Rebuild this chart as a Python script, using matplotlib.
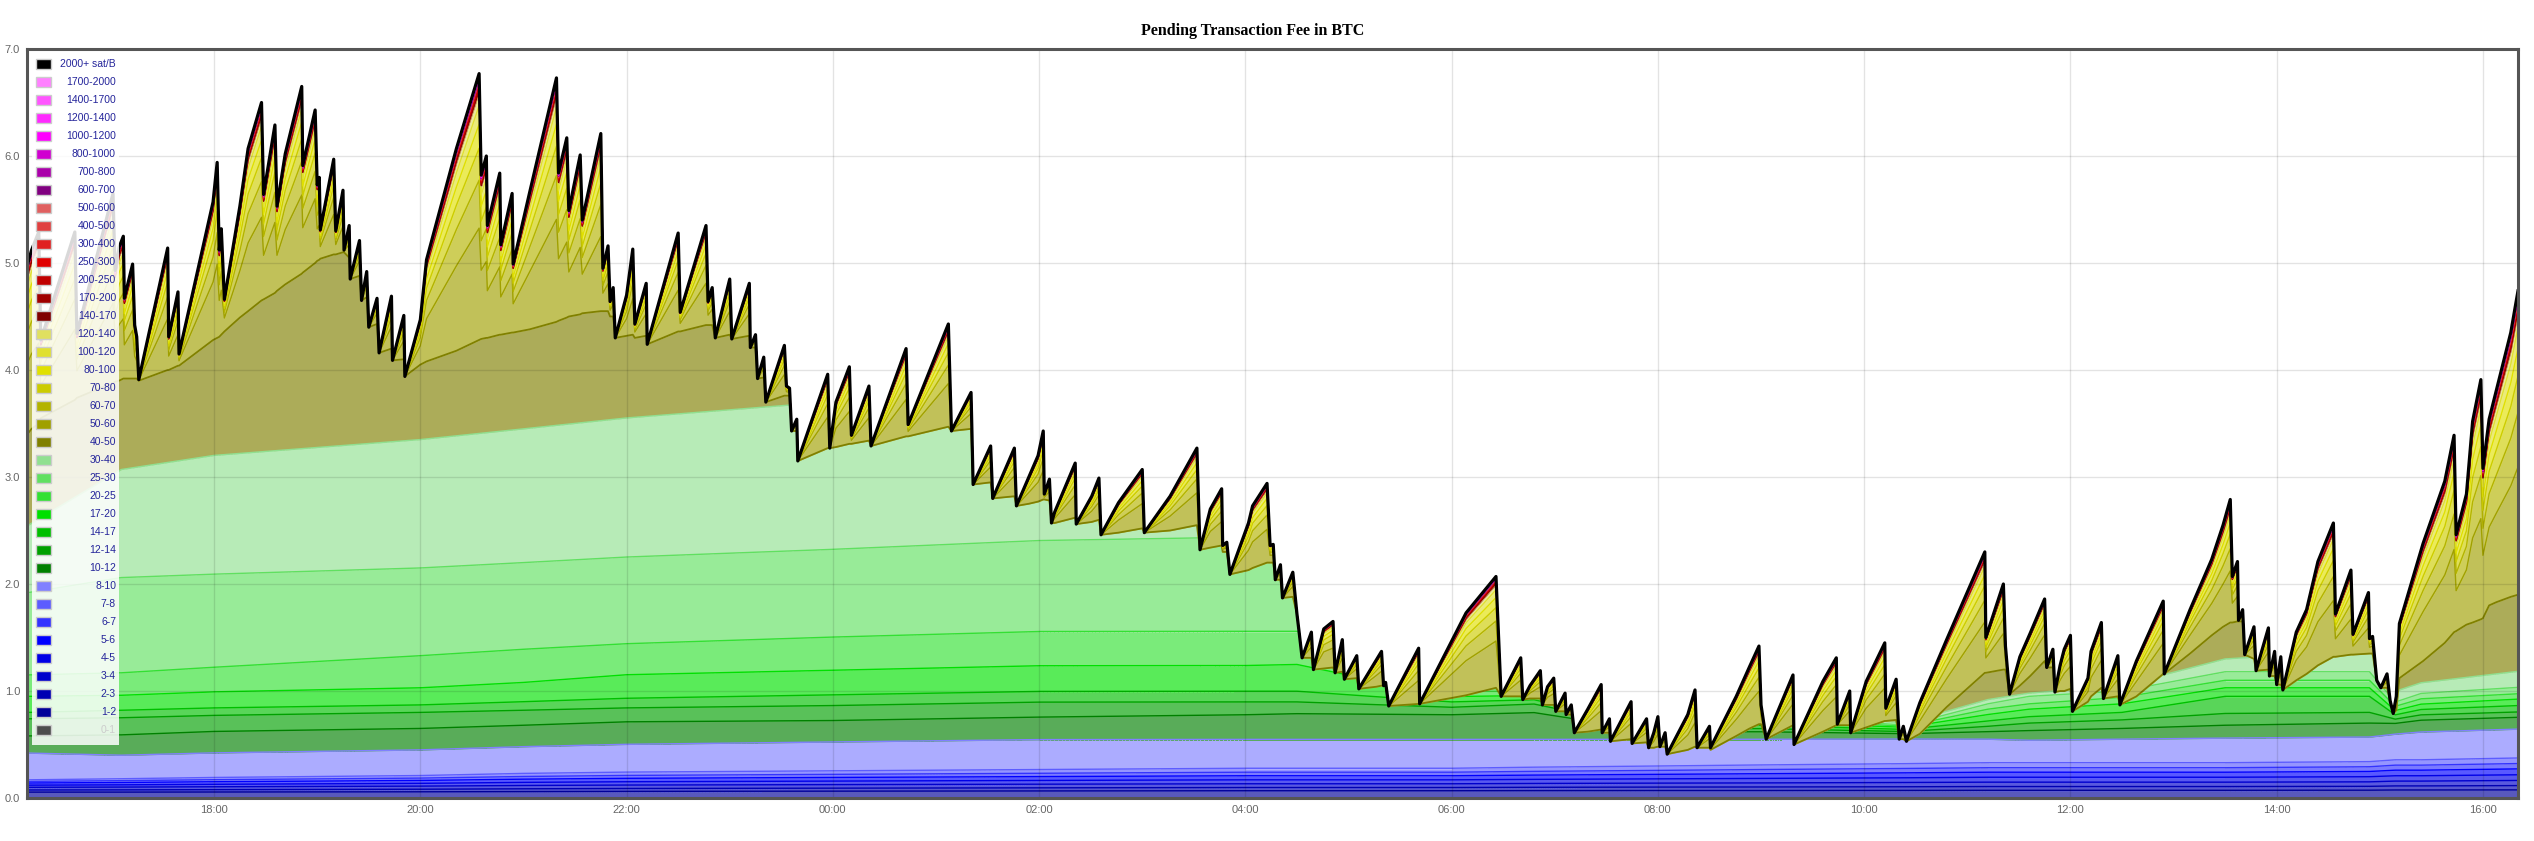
import numpy as np
import matplotlib.pyplot as plt
from matplotlib.patches import Polygon, Rectangle
from matplotlib.colors import to_rgb

# fee bands (sat/B), lowest first
bands = ["0-1", "1-2", "2-3", "3-4", "4-5", "5-6", "6-7", "7-8", "8-10",
         "10-12", "12-14", "14-17", "17-20", "20-25", "25-30", "30-40",
         "40-50", "50-60", "60-70", "70-80", "80-100", "100-120", "120-140",
         "140-170", "170-200", "200-250", "250-300", "300-400", "400-500", "500-600",
         "600-700", "700-800", "800-1000", "1000-1200", "1200-1400", "1400-1700",
         "1700-2000", "2000+ sat/B"]
band_colors = ["#4d4d4d", "#000099", "#0000b3", "#0000cc", "#0000e6", "#0000ff", "#3333ff", "#5c5cff", "#8080ff",
               "#008000", "#00a000", "#00bf00", "#00e000", "#33e033", "#60e060", "#90e090",
               "#808000", "#a0a000", "#b3b300", "#cccc00", "#e0e000", "#e0e030", "#e0e060",
               "#800000", "#a00000", "#c00000", "#e00000", "#e02020", "#e04040", "#e06060",
               "#800080", "#aa00aa", "#d000d0", "#ff00ff", "#ff2aff", "#ff55ff",
               "#ff80ff", "#000000"]

# slow lower bands (BTC per band), sampled in hours since midnight of day 1
t_low = [16.2, 17.1, 18, 20, 21, 22, 24, 26, 28, 28.5, 30, 30.8, 32, 33, 34.4, 35.2, 35.6, 36.5, 37.5, 38.9, 39.15, 39.4, 40.34]
b1_2 = [.055, .055, .056, .058, .060, .062, .064, .066, .068, .068, .068, .069, .070, .070, .071, .072, .072, .072, .072, .073, .075, .075, .076]
b2_3 = [.020, .021, .022, .024, .026, .027, .028, .029, .030, .030, .030, .031, .032, .033, .034, .035, .035, .035, .035, .036, .038, .038, .040]
b3_4 = [.025, .026, .027, .029, .031, .032, .033, .034, .035, .035, .035, .036, .037, .038, .040, .041, .041, .041, .041, .042, .045, .045, .048]
b4_5 = [.020, .021, .023, .026, .029, .031, .033, .035, .037, .037, .037, .038, .040, .042, .044, .046, .046, .046, .046, .048, .050, .050, .053]
b5_6 = [.020, .022, .024, .027, .030, .032, .034, .036, .038, .038, .038, .040, .042, .044, .046, .047, .047, .047, .047, .049, .052, .052, .055]
b6_7 = [.015, .017, .019, .022, .025, .027, .029, .031, .033, .033, .033, .035, .037, .039, .041, .042, .042, .042, .042, .044, .047, .047, .050]
b7_8 = [.015, .018, .021, .024, .029, .031, .033, .035, .037, .037, .037, .039, .041, .043, .045, .047, .047, .047, .047, .048, .050, .050, .052]
b8_10 = [0.25, 0.22, 0.23, 0.24, 0.25, 0.26, 0.27, 0.28, 0.27, 0.27, 0.27, 0.26, 0.25, 0.24, 0.23, 0.22, 0.21, 0.22, 0.23, 0.23, 0.24, 0.26, 0.27]
b10_12 = [0.16, 0.19, 0.20, 0.20, 0.20, 0.21, 0.20, 0.21, 0.23, 0.24, 0.23, 0.25, 0.07, 0.07, 0.05, 0.07, 0.09, 0.10, 0.12, 0.13, 0.10, 0.11, 0.11]
b12_14 = [0.16, 0.16, 0.15, 0.15, 0.14, 0.13, 0.14, 0.14, 0.12, 0.11, 0.07, 0.08, 0.02, 0.03, 0.02, 0.05, 0.07, 0.08, 0.11, 0.10, 0.04, 0.05, 0.05]
b14_17 = [0.06, 0.07, 0.07, 0.07, 0.08, 0.09, 0.10, 0.10, 0.10, 0.10, 0.05, 0.04, 0.02, 0.03, 0.02, 0.05, 0.06, 0.07, 0.16, 0.15, 0.04, 0.05, 0.06]
b17_20 = [0.15, 0.14, 0.15, 0.16, 0.18, 0.22, 0.23, 0.24, 0.24, 0.25, 0.05, 0.04, 0.02, 0.03, 0.02, 0.06, 0.07, 0.08, 0.08, 0.08, 0.04, 0.05, 0.06]
b20_25 = [0.20, 0.21, 0.23, 0.30, 0.31, 0.29, 0.31, 0.32, 0.32, 0.31, 0.05, 0.04, 0.02, 0.03, 0.01, 0.05, 0.05, 0.06, 0.07, 0.07, 0.04, 0.05, 0.05]
b25_30 = [0.77, 0.89, 0.87, 0.82, 0.81, 0.81, 0.82, 0.85, 0.88, 0.89, 0.02, 0.02, 0.02, 0.03, 0.01, 0.05, 0.07, 0.06, 0.08, 0.08, 0.04, 0.05, 0.06]
b30_40 = [0.63, 1.01, 1.11, 1.20, 1.25, 1.30, 1.38, 1.30, 1.26, 1.25, 0.03, 0.03, 0.02, 0.03, 0.02, 0.04, 0.03, 0.05, 0.12, 0.20, 0.10, 0.10, 0.15]

# fast part: total pending fee and top of the 40-50 band
t_fine = [16.19, 16.23, 16.30, 16.32, 16.65, 16.67, 17.02, 17.04, 17.08, 17.12, 17.13, 17.21, 17.23, 17.25, 17.27,
          17.55, 17.56, 17.65, 17.66, 17.99, 18.03, 18.05, 18.07, 18.10, 18.25, 18.33, 18.46, 18.48, 18.59, 18.61,
          18.69, 18.85, 18.86, 18.98, 19.00, 19.02, 19.03, 19.16, 19.18, 19.25, 19.26, 19.31, 19.32, 19.41, 19.43,
          19.48, 19.50, 19.58, 19.60, 19.72, 19.73, 19.84, 19.85, 20.00, 20.06, 20.35, 20.57, 20.59, 20.64, 20.65,
          20.77, 20.78, 20.89, 20.90, 21.06, 21.32, 21.34, 21.42, 21.44, 21.55, 21.57, 21.75, 21.77, 21.82, 21.84,
          21.87, 21.89, 22.00, 22.06, 22.08, 22.19, 22.20, 22.50, 22.52, 22.77, 22.79, 22.83, 22.86, 23.00, 23.02,
          23.19, 23.20, 23.25, 23.27, 23.33, 23.35, 23.53, 23.55, 23.58, 23.60, 23.65, 23.66, 23.95, 23.97, 24.03,
          24.16, 24.18, 24.35, 24.37, 24.71, 24.73, 25.12, 25.15, 25.34, 25.36, 25.53, 25.55, 25.76, 25.78, 25.90,
          25.99, 26.04, 26.05, 26.10, 26.12, 26.15, 26.35, 26.36, 26.51, 26.58, 26.60, 26.77, 27.00, 27.02, 27.27,
          27.53, 27.56, 27.66, 27.77, 27.78, 27.82, 27.85, 28.03, 28.07, 28.21, 28.24, 28.27, 28.29, 28.34, 28.36,
          28.46, 28.50, 28.52, 28.55, 28.64, 28.66, 28.76, 28.85, 28.87, 28.94, 28.96, 29.08, 29.10, 29.27, 29.32,
          29.34, 29.36, 29.39, 29.68, 29.69, 30.14, 30.43, 30.48, 30.67, 30.69, 30.76, 30.86, 30.88, 30.93, 30.99,
          31.01, 31.10, 31.11, 31.16, 31.19, 31.32, 31.45, 31.46, 31.53, 31.54, 31.74, 31.75, 31.89, 31.91, 31.96,
          32.00, 32.02, 32.07, 32.09, 32.29, 32.36, 32.38, 32.50, 32.51, 32.76, 32.89, 32.98, 33.00, 33.05, 33.31,
          33.32, 33.60, 33.73, 33.74, 33.86, 33.87, 34.02, 34.20, 34.21, 34.31, 34.34, 34.38, 34.41, 34.54, 34.80,
          35.17, 35.18, 35.35, 35.37, 35.41, 35.51, 35.61, 35.75, 35.77, 35.83, 35.85, 35.90, 35.94, 36.00, 36.02,
          36.17, 36.20, 36.30, 36.32, 36.46, 36.48, 36.64, 36.90, 36.91, 37.16, 37.37, 37.48, 37.55, 37.57, 37.62,
          37.63, 37.67, 37.69, 37.78, 37.80, 37.92, 37.93, 37.98, 38.00, 38.04, 38.06, 38.19, 38.29, 38.40, 38.55,
          38.57, 38.72, 38.74, 38.89, 38.90, 38.93, 38.97, 39.01, 39.07, 39.10, 39.13, 39.16, 39.19, 39.42, 39.63,
          39.72, 39.74, 39.84, 39.90, 39.98, 40.00, 40.06, 40.13, 40.27, 40.34]
fee_total = [4.98, 5.12, 5.29, 4.28, 5.29, 4.34, 5.65, 4.93, 5.15, 5.25, 4.67, 4.99, 4.42, 4.31, 3.91,
             5.14, 4.31, 4.73, 4.15, 5.57, 5.94, 5.12, 5.32, 4.66, 5.53, 6.07, 6.50, 5.64, 6.29, 5.53,
             6.02, 6.65, 5.91, 6.43, 5.73, 5.80, 5.31, 5.97, 5.30, 5.68, 5.12, 5.35, 4.85, 5.21, 4.65,
             4.92, 4.40, 4.67, 4.16, 4.69, 4.09, 4.51, 3.94, 4.47, 5.03, 6.07, 6.77, 5.82, 6.00, 5.35,
             5.84, 5.17, 5.65, 4.99, 5.66, 6.73, 5.84, 6.17, 5.49, 6.01, 5.40, 6.21, 4.95, 5.16, 4.64,
             4.77, 4.30, 4.70, 5.13, 4.43, 4.81, 4.24, 5.28, 4.54, 5.35, 4.64, 4.77, 4.30, 4.85, 4.29,
             4.81, 4.21, 4.33, 3.92, 4.12, 3.70, 4.23, 3.85, 3.83, 3.43, 3.54, 3.15, 3.96, 3.27, 3.70,
             4.03, 3.39, 3.85, 3.29, 4.20, 3.49, 4.43, 3.43, 3.79, 2.93, 3.29, 2.80, 3.27, 2.73, 3.00,
             3.20, 3.43, 2.84, 2.98, 2.57, 2.67, 3.13, 2.56, 2.82, 2.99, 2.46, 2.76, 3.07, 2.48, 2.82,
             3.27, 2.32, 2.70, 2.89, 2.36, 2.39, 2.09, 2.57, 2.73, 2.94, 2.36, 2.37, 2.04, 2.18, 1.87,
             2.11, 1.72, 1.56, 1.31, 1.55, 1.20, 1.58, 1.65, 1.17, 1.48, 1.11, 1.33, 1.02, 1.29, 1.37,
             1.05, 1.08, 0.86, 1.40, 0.88, 1.73, 2.07, 0.95, 1.31, 0.92, 1.05, 1.19, 0.87, 1.04, 1.12,
             0.81, 0.98, 0.78, 0.87, 0.61, 0.83, 1.06, 0.61, 0.74, 0.53, 0.90, 0.51, 0.74, 0.47, 0.61,
             0.76, 0.48, 0.61, 0.41, 0.78, 1.01, 0.47, 0.67, 0.47, 0.95, 1.23, 1.42, 0.87, 0.55, 1.15,
             0.50, 1.09, 1.31, 0.69, 1.00, 0.61, 1.09, 1.45, 0.84, 1.11, 0.55, 0.67, 0.53, 0.89, 1.48,
             2.30, 1.50, 2.00, 1.42, 0.97, 1.32, 1.54, 1.86, 1.22, 1.39, 0.99, 1.24, 1.39, 1.52, 0.81,
             1.12, 1.37, 1.64, 0.93, 1.33, 0.87, 1.28, 1.84, 1.16, 1.76, 2.23, 2.55, 2.79, 2.07, 2.21,
             1.66, 1.76, 1.34, 1.60, 1.19, 1.59, 1.14, 1.37, 1.06, 1.32, 1.01, 1.55, 1.76, 2.21, 2.57,
             1.72, 2.13, 1.53, 1.92, 1.49, 1.51, 1.10, 1.03, 1.16, 0.91, 0.79, 0.95, 1.63, 2.38, 2.96,
             3.39, 2.46, 2.84, 3.52, 3.91, 3.08, 3.54, 3.81, 4.35, 4.74]
fee_base = [3.40, 3.45, 3.50, 3.55, 3.72, 3.74, 3.88, 3.89, 3.90, 3.92, 3.92, 3.92, 3.92, 3.92, 3.90,
            4.00, 4.00, 4.04, 4.04, 4.28, 4.30, 4.31, 4.33, 4.36, 4.49, 4.55, 4.65, 4.66, 4.72, 4.74,
            4.80, 4.90, 4.91, 5.00, 5.02, 5.03, 5.04, 5.08, 5.08, 5.10, 5.10, 5.05, 4.85, 4.88, 4.65,
            4.68, 4.40, 4.43, 4.16, 4.20, 4.09, 4.10, 3.94, 4.05, 4.08, 4.18, 4.28, 4.29, 4.30, 4.30,
            4.33, 4.33, 4.35, 4.35, 4.38, 4.45, 4.46, 4.49, 4.50, 4.52, 4.53, 4.55, 4.55, 4.55, 4.50,
            4.50, 4.30, 4.32, 4.33, 4.30, 4.32, 4.24, 4.36, 4.36, 4.42, 4.42, 4.42, 4.30, 4.33, 4.29,
            4.32, 4.21, 4.21, 3.92, 3.93, 3.70, 3.76, 3.76, 3.76, 3.43, 3.43, 3.15, 3.27, 3.27, 3.28,
            3.31, 3.31, 3.34, 3.29, 3.38, 3.38, 3.47, 3.43, 3.45, 2.93, 2.95, 2.80, 2.82, 2.73, 2.75,
            2.77, 2.79, 2.79, 2.78, 2.57, 2.57, 2.62, 2.56, 2.58, 2.60, 2.46, 2.48, 2.52, 2.48, 2.50,
            2.55, 2.32, 2.34, 2.36, 2.30, 2.30, 2.09, 2.13, 2.15, 2.20, 2.20, 2.20, 2.04, 2.04, 1.87,
            1.88, 1.72, 1.56, 1.31, 1.31, 1.20, 1.21, 1.22, 1.17, 1.18, 1.11, 1.12, 1.02, 1.04, 1.05,
            1.05, 1.05, 0.86, 0.88, 0.88, 0.96, 1.03, 0.95, 0.95, 0.92, 0.93, 0.93, 0.87, 0.87, 0.87,
            0.81, 0.81, 0.78, 0.78, 0.61, 0.62, 0.64, 0.61, 0.61, 0.53, 0.55, 0.51, 0.52, 0.47, 0.47,
            0.48, 0.48, 0.48, 0.41, 0.45, 0.48, 0.47, 0.47, 0.45, 0.58, 0.65, 0.69, 0.69, 0.55, 0.68,
            0.50, 0.62, 0.68, 0.68, 0.68, 0.61, 0.66, 0.72, 0.72, 0.73, 0.55, 0.55, 0.53, 0.60, 0.85,
            1.17, 1.17, 1.20, 1.20, 0.97, 1.05, 1.14, 1.28, 1.22, 1.22, 0.99, 1.00, 1.00, 1.02, 0.81,
            0.90, 0.95, 1.03, 0.93, 0.95, 0.87, 0.95, 1.16, 1.16, 1.35, 1.52, 1.60, 1.64, 1.64, 1.65,
            1.65, 1.65, 1.34, 1.30, 1.19, 1.20, 1.14, 1.14, 1.06, 1.06, 1.01, 1.10, 1.16, 1.24, 1.32,
            1.32, 1.34, 1.34, 1.35, 1.35, 1.35, 1.10, 1.03, 1.03, 0.91, 0.79, 0.82, 1.12, 1.28, 1.45,
            1.55, 1.56, 1.62, 1.64, 1.67, 1.68, 1.80, 1.83, 1.88, 1.90]

# how the amount above the 40-50 band is split (50-60 up to 2000+)
upper_share = [0.42, 0.18, 0.12, 0.09, 0.07, 0.05,
               0.006, 0.006, 0.012, 0.008, 0.006, 0.004, 0.003,
               0.003, 0.003, 0.004, 0.003, 0.002, 0.002, 0.002, 0.006]

tick_hours = [18, 20, 22, 24, 26, 28, 30, 32, 34, 36, 38, 40]
x_labels = ["18:00", "20:00", "22:00", "00:00", "02:00", "04:00",
            "06:00", "08:00", "10:00", "12:00", "14:00", "16:00"]
y_ticks = [0, 1, 2, 3, 4, 5, 6, 7]


def soft(c, a=0.65):
    r, g, b = to_rgb(c)
    return (r * a + 1 - a, g * a + 1 - a, b * a + 1 - a)


plt.rcParams["font.family"] = ["Liberation Sans", "DejaVu Sans"]

W, H = 2534, 841
fig = plt.figure(figsize=(W / 100, H / 100), dpi=100)
ax = fig.add_axes([27 / W, 1 - 798 / H, (2518 - 27) / W, (798 - 49) / H])

t = np.array(t_fine)
total = np.array(fee_total)
base = np.array(fee_base)
tl = np.array(t_low)

# 40-50 band sits under the lower bands, shows where they are smaller
olive = band_colors[16]
ax.fill_between(t, 0, base, color=soft(olive), lw=0.4, zorder=1)

clip = Polygon(np.column_stack([np.r_[t[0], t, t[-1]], np.r_[0, base, 0]]),
               closed=True, transform=ax.transData)

low_values = [b1_2, b2_3, b3_4, b4_5, b5_6, b6_7, b7_8, b8_10,
              b10_12, b12_14, b14_17, b17_20, b20_25, b25_30, b30_40]
low_tops = np.cumsum(np.array(low_values), axis=0)
prev = np.zeros(len(tl))
for top, col in zip(low_tops, band_colors[1:16]):
    f = ax.fill_between(tl, prev, top, color=soft(col), lw=0.4, zorder=2)
    f.set_clip_path(clip)
    ln, = ax.plot(tl, top, color=col, lw=1, zorder=2.5)
    ln.set_clip_path(clip)
    prev = top

ax.plot(t, base, color=olive, lw=1.3, zorder=3.5)

# upper bands stacked on the 40-50 band
excess = total - base
cum = base.copy()
for share, col in zip(upper_share, band_colors[17:]):
    top = cum + share * excess
    ax.fill_between(t, cum, top, color=soft(col), lw=0.4, zorder=3)
    ax.plot(t, top, color=col, lw=1, zorder=3.6)
    cum = top
ax.plot(t, total, color="black", lw=2.3, zorder=5)

# grid over the translucent-looking areas
for h in tick_hours:
    ax.axvline(h, color="black", alpha=0.11, lw=1, zorder=6)
for v in y_ticks[1:-1]:
    ax.axhline(v, color="black", alpha=0.11, lw=1, zorder=6)

ax.set_xlim(16.186, 40.34)
ax.set_ylim(0, 7)
ax.set_xticks(tick_hours)
ax.set_xticklabels(x_labels)
ax.set_yticks(y_ticks)
ax.set_yticklabels(["%.1f" % v for v in y_ticks])
ax.tick_params(length=0, colors="#666666", labelsize=8, pad=5)
for s in ax.spines.values():
    s.set_color("#555555")
    s.set_linewidth(2.2)
    s.set_zorder(8)

fig.text(1253 / W, 1 - 31 / H, "Pending Transaction Fee in BTC", ha="center", va="center",
         fontsize=11.5, fontweight="bold", family="Liberation Serif")

# legend box drawn by hand: labels are right aligned
fig.add_artist(Rectangle((32 / W, 1 - 745 / H), 87 / W, 693 / H, transform=fig.transFigure,
                         facecolor="white", alpha=0.85, edgecolor="none", zorder=10))
for i, (lab, col) in enumerate(zip(bands[::-1], band_colors[::-1])):
    y = 64 + 18.0 * i
    fig.add_artist(Rectangle((36 / W, 1 - (y + 5) / H), 15 / W, 10 / H, transform=fig.transFigure,
                             facecolor=col, edgecolor="#cccccc", lw=1, zorder=11))
    fig.text(116 / W, 1 - y / H, lab, ha="right", va="center", fontsize=7.5,
             color="#cccccc" if lab == "0-1" else "#24249a", zorder=11)

plt.savefig("out.png", dpi=100)
